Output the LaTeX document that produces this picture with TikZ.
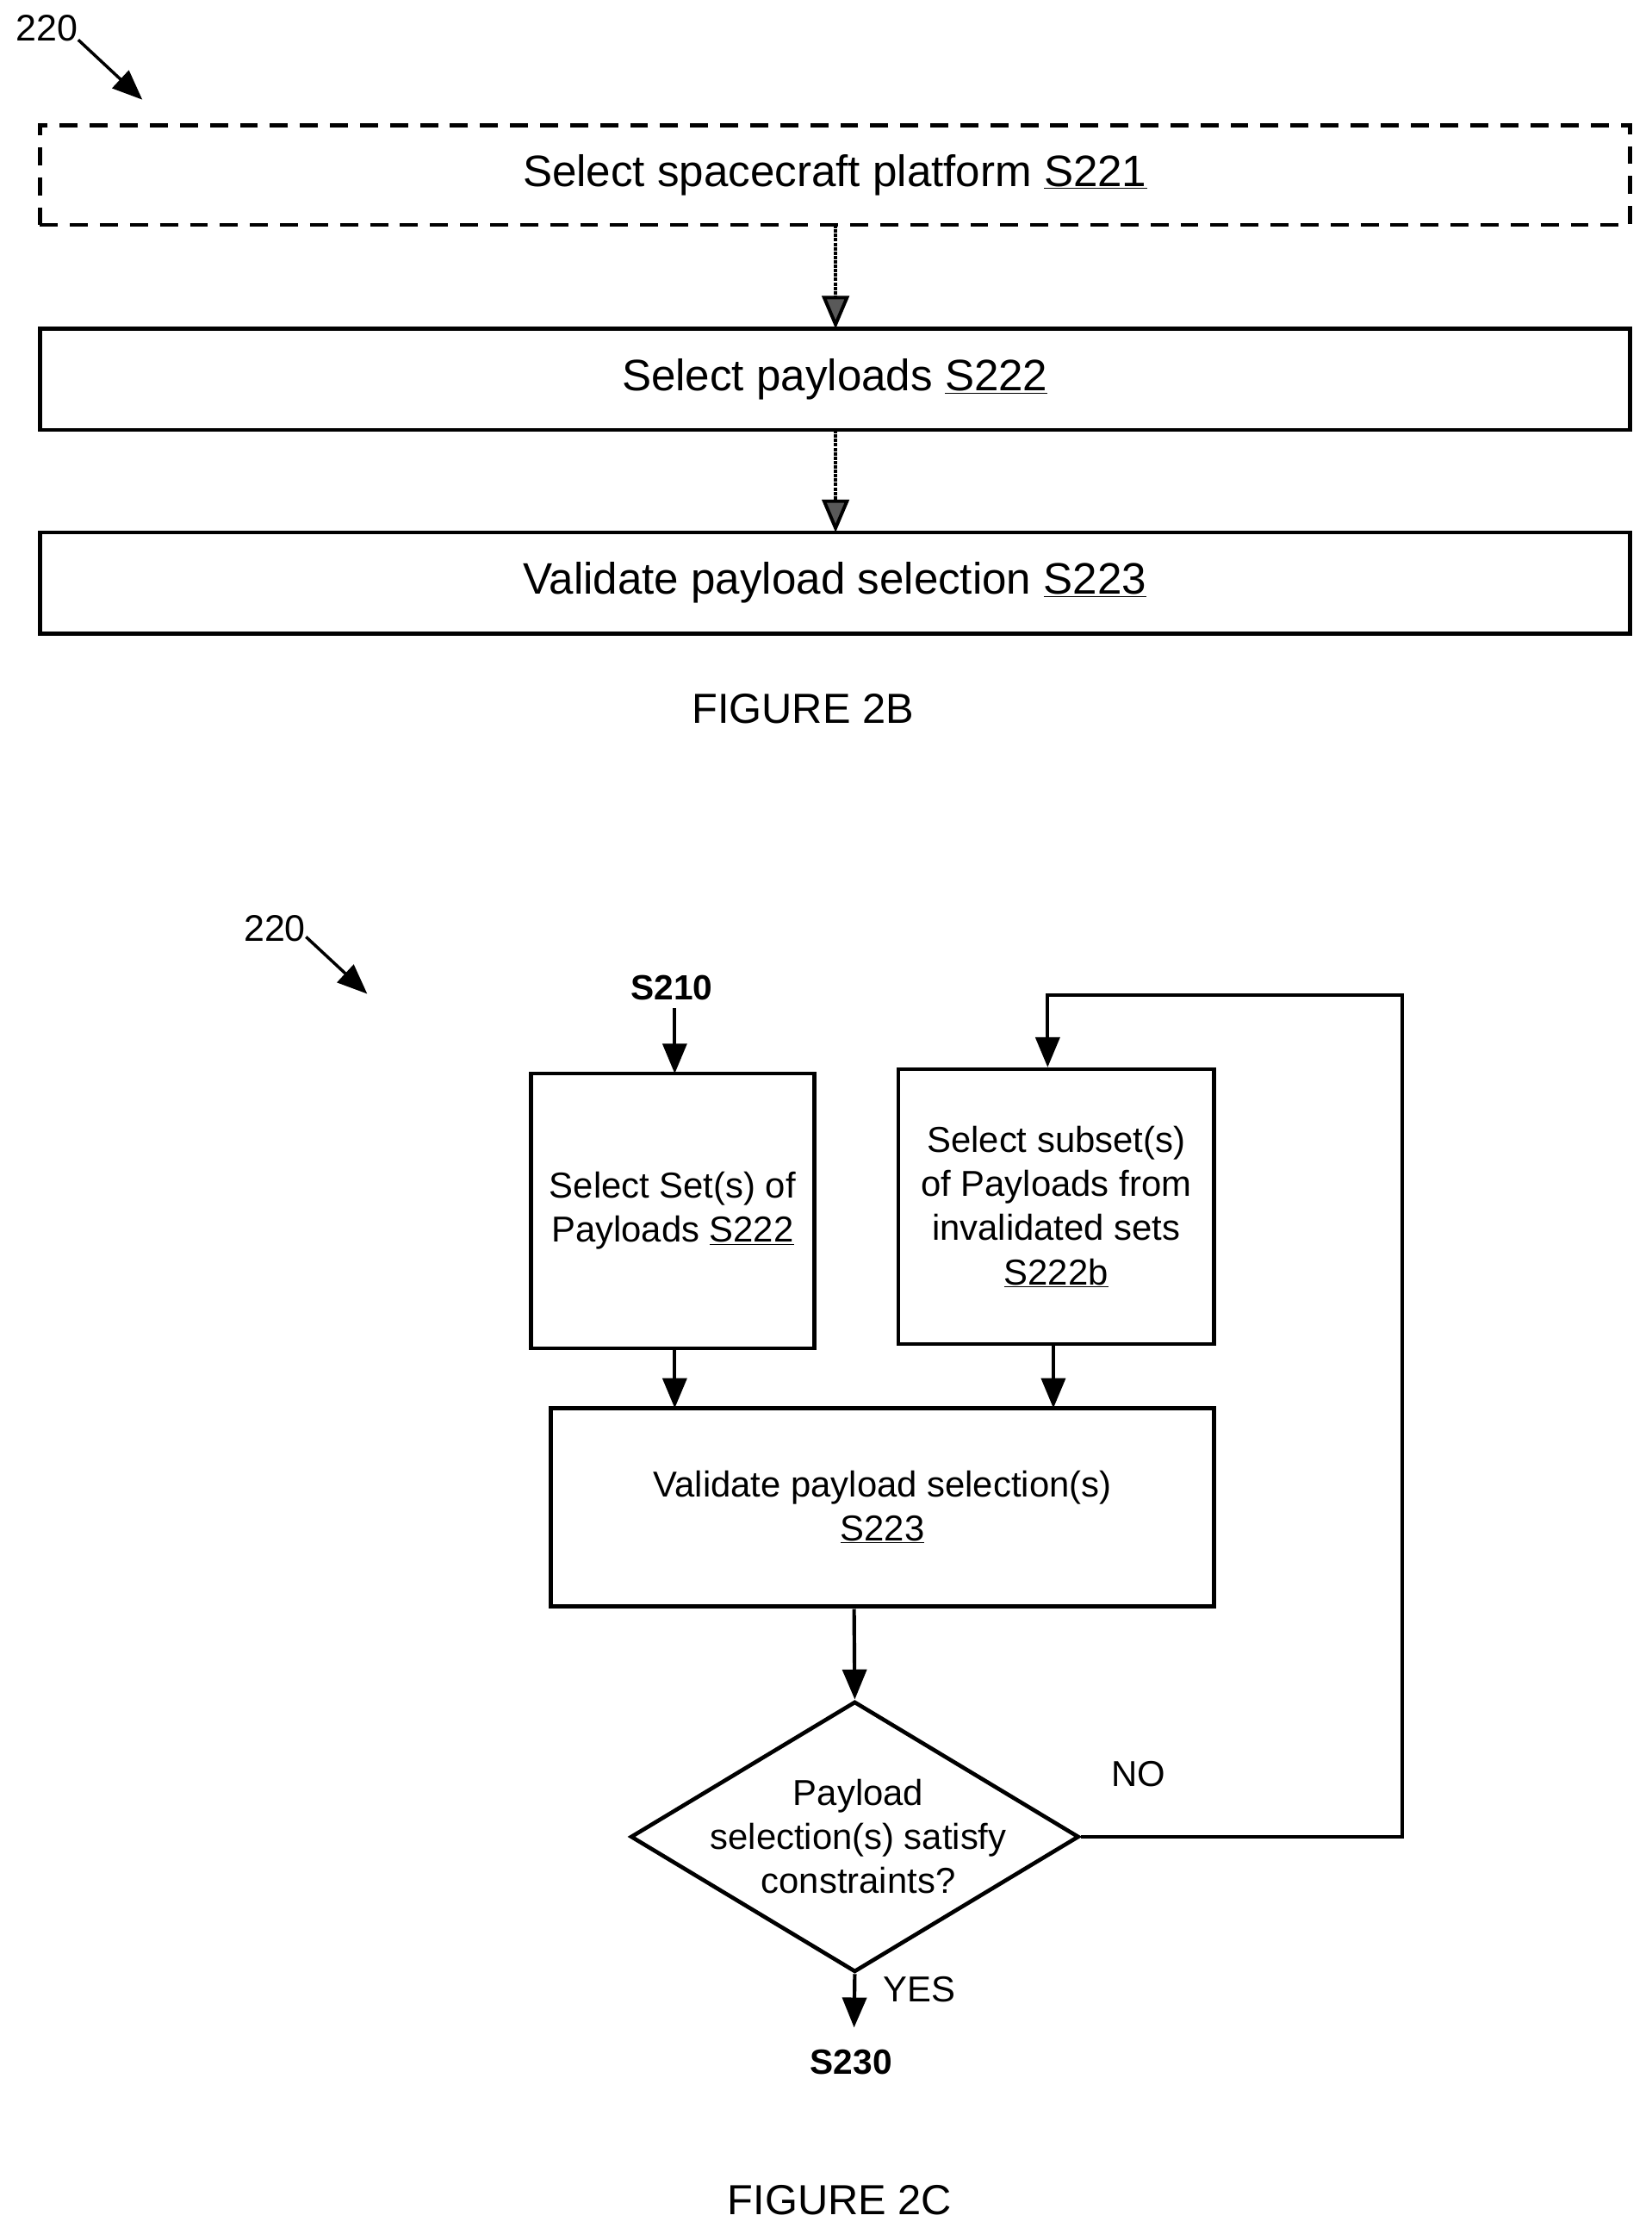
\documentclass[tikz,border=0pt]{standalone}
\usepackage{fontspec}
\setmainfont{Liberation Sans}
\usetikzlibrary{shapes.geometric,arrows.meta}
\begin{document}
\begin{tikzpicture}[x=0.05cm,y=-0.05cm,
 box/.style={draw,line width=4pt,inner sep=0,align=center},
 arr/.style={line width=3.6pt,-{Triangle[length=30pt,width=24pt]}},
 darr/.style={line width=3.4pt,densely dotted,-{Triangle[length=33pt,width=27pt,fill=black!65]}},
 lab/.style={font=\fontsize{37}{40}\selectfont},
 bigt/.style={font=\fontsize{44}{52}\selectfont},
 midt/.style={font=\fontsize{36}{44}\selectfont}]
\useasboundingbox (0,0) rectangle (1160,1569);
% Figure 2B
\node[lab] (l1) at (33,20) {220};
\coordinate (l1a) at (100,70);
\draw[arr,line width=3pt] (55,28) -- (l1a);
\node[box,dashed,dash pattern=on 18pt off 12pt,minimum width=1117*0.05cm,minimum height=70*0.05cm,bigt] (b1) at (586.5,123) {Select spacecraft platform \underline{S221}};
\node[box,minimum width=1117*0.05cm,minimum height=71*0.05cm,bigt] (b2) at (586.5,266.5) {Select payloads \underline{S222}};
\node[box,minimum width=1117*0.05cm,minimum height=71*0.05cm,bigt] (b3) at (586.5,409.5) {Validate payload selection \underline{S223}};
\draw[darr] (587,158) -- (587,231);
\draw[darr] (587,302) -- (587,374);
\node[font=\fontsize{42}{46}\selectfont] (f2b) at (564,498) {FIGURE 2B};
% Figure 2C
\node[lab] (l2) at (193,652) {220};
\coordinate (l2a) at (258,698);
\draw[arr,line width=3pt] (215,658) -- (l2a);
\node[font=\bfseries\fontsize{35}{38}\selectfont] (s210) at (472,694) {S210};
\node[box,minimum width=199*0.05cm,minimum height=193*0.05cm,midt] (A) at (472.5,850.5) {Select Set(s) of\\Payloads \underline{S222}};
\node[box,minimum width=222*0.05cm,minimum height=193*0.05cm,midt] (B) at (742,847.5) {Select subset(s)\\of Payloads from\\invalidated sets\\\underline{S222b}};
\node[box,minimum width=466*0.05cm,minimum height=139*0.05cm,midt] (C) at (620,1058.5) {Validate payload selection(s)\\\underline{S223}};
\node[diamond,draw,line width=4pt,inner sep=0,aspect=1.66,minimum width=315*0.05cm,minimum height=190*0.05cm,midt] (D) at (600.5,1290) {};
\node[midt,align=center] (Dt) at (603,1290) {Payload\\selection(s) satisfy\\constraints?};
\draw[arr] (474,708) -- (474,754);
\draw[arr] (474,947) -- (474,989);
\draw[arr] (740,944) -- (740,989);
\draw[arr] (600,1130) -- (D.north);
\coordinate (n1) at (985,1290);
\coordinate (n2) at (985,699);
\coordinate (n3) at (736,699);
\draw[arr] (D.east) -- (n1) -- (n2) -- (n3) -- (B.north -| n3);
\node[midt] (no) at (800,1246) {NO};
\coordinate (s230a) at (600,1424);
\draw[arr] (D.south) -- (s230a);
\node[midt] (yes) at (646,1397) {YES};
\node[font=\bfseries\fontsize{35}{38}\selectfont] (s230) at (598,1448) {S230};
\node[font=\fontsize{42}{46}\selectfont] (f2c) at (590,1545) {FIGURE 2C};
\end{tikzpicture}
\end{document}
